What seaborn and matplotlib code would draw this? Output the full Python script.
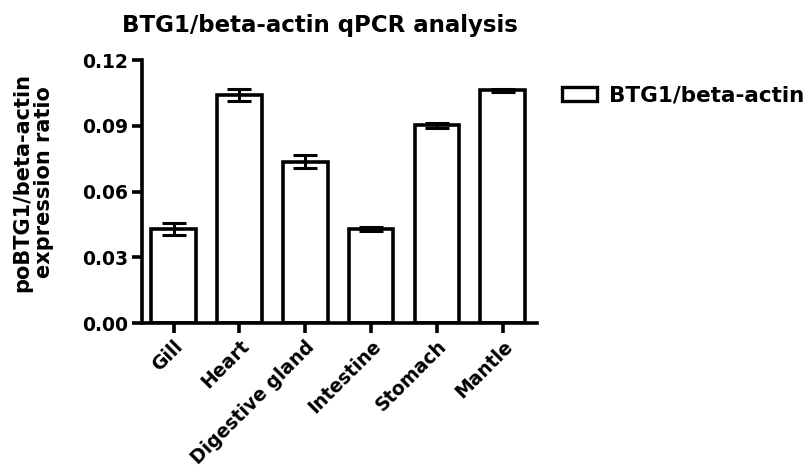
import matplotlib
matplotlib.use("Agg")
import matplotlib.pyplot as plt
import seaborn as sns
import pandas as pd

tissues = ["Gill", "Heart", "Digestive gland", "Intestine", "Stomach", "Mantle"]
ratio = [0.0429, 0.1040, 0.0736, 0.0429, 0.0902, 0.1063]
sem = [0.0027, 0.0028, 0.0029, 0.0007, 0.0010, 0.0007]
series_name = "BTG1/beta-actin"
yticks = [0.00, 0.03, 0.06, 0.09, 0.12]

sns.set_style("ticks", {"axes.edgecolor": "black", "text.color": "black",
                        "xtick.color": "black", "ytick.color": "black",
                        "axes.labelcolor": "black"})
plt.rcParams['font.family'] = ['DejaVu Sans']
plt.rcParams['font.weight'] = 'bold'

df = pd.DataFrame({"tissue": tissues, "ratio": ratio})

fig = plt.figure(figsize=(8.09, 4.69), dpi=100)
ax = fig.add_axes([0.1755, 0.3113, 0.4883, 0.5607])

sns.barplot(data=df, x="tissue", y="ratio", color="white", edgecolor="black",
            linewidth=2.6, width=0.68, errorbar=None, label=series_name, ax=ax)
ax.errorbar(range(len(tissues)), ratio, yerr=sem, fmt="none", ecolor="black",
            elinewidth=2.2, capsize=8.5, capthick=2.2, zorder=5)

ax.set_xlim(-0.48, 5.52)
ax.set_ylim(0, 0.12)
ax.set_yticks(yticks)
ax.set_yticklabels([f"{v:.2f}" for v in yticks], fontsize=13.5, fontweight="bold",
                   color="black")
ax.set_xticks(range(len(tissues)))
ax.set_xticklabels(tissues, rotation=45, ha="right", rotation_mode="anchor",
                   fontsize=13.5, fontweight="bold", color="black")
ax.set_xlabel("")
ax.set_ylabel("poBTG1/beta-actin\nexpression ratio", fontsize=15,
              fontweight="bold", linespacing=1.1, color="black")
ax.yaxis.set_label_coords(-0.222, 0.535)
ax.set_title("BTG1/beta-actin qPCR analysis", fontsize=16.5, fontweight="bold",
             pad=20, color="black", x=0.45)
for side in ["top", "right"]:
    ax.spines[side].set_visible(False)
for side in ["left", "bottom"]:
    ax.spines[side].set_linewidth(2.6)
    ax.spines[side].set_color("black")
ax.tick_params(axis="both", width=2.6, length=7, direction="out", pad=3,
               color="black")

leg = ax.legend(loc="center left", bbox_to_anchor=(1.063, 0.865), frameon=False,
                borderpad=0, borderaxespad=0,
                handlelength=1.65, handleheight=0.68, handletextpad=0.55,
                prop={"size": 15.5, "weight": "bold"})
for h in leg.legend_handles:
    h.set_linewidth(2.4)
for t in leg.get_texts():
    t.set_color("black")

fig.savefig("out.png", dpi=100)
